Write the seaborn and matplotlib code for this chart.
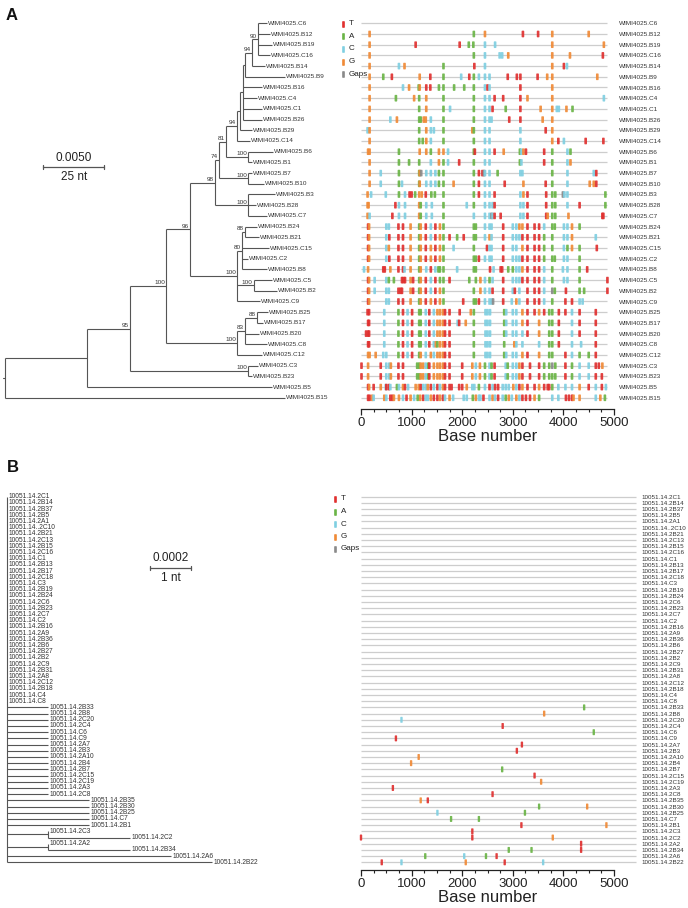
import pandas as pd
import seaborn as sns
import matplotlib.pyplot as plt
from matplotlib.ticker import MultipleLocator

sns.set_theme(style="white")
plt.rcParams["font.family"] = ["Liberation Sans", "DejaVu Sans"]

W, H = 688, 908

# ---------------- data ----------------
bases = ["T", "A", "C", "G", "Gaps"]
base_colors = ["#e0302f", "#6ab446", "#7fcfe1", "#f08a36", "#8a8a8a"]
code = {"T": "T", "A": "A", "C": "C", "G": "G", "N": "Gaps"}
a_aln_len = 4860
b_aln_len = 5430

# panel A tree (depth in nt from root)
a_prefix = "WIMI4025."
a_taxa = ["C6", "B12", "B19", "C16", "B14", "B9", "B16", "C4", "C1", "B26", "B29", "C14",
          "B6", "B1", "B7", "B10", "B3", "B28", "C7", "B24", "B21", "C15", "C2", "B8",
          "C5", "B2", "C9", "B25", "B17", "B20", "C8", "C12", "C3", "B23", "B5", "B15"]
a_tip_depth = [107.4, 108.6, 109.4, 108.6, 106.6, 114.8, 105.3, 103.3, 105.3, 105.3, 101.2, 100.4,
               109.8, 101.2, 101.2, 106.1, 110.7, 102.9, 107.4, 103.3, 104.1, 108.2, 99.6, 107.4,
               109.4, 111.5, 104.5, 107.8, 105.7, 104.1, 107.4, 105.3, 103.7, 101.2, 109.4, 114.8]
a_tip_parent = ["Ntop", "Ntop", "Ntop", "Ntop", "Nt2", "Nt3", "Nt4", "Nt4", "Nt4", "Nt4", "Nt5", "N15",
                "NB6", "NB6", "NB7", "NB7", "NB3", "NB3", "NB3", "N13", "N13", "N10", "N10", "N10",
                "NC5", "NC5", "N6", "N12", "N12", "N11", "N11", "N9", "NC3", "NC3", "N1", "R"]
a_nodes = ["R", "N1", "N2", "N3", "N4", "N5", "N8", "N14", "N15", "Nt5", "Nt4", "Nt3", "Nt2", "Ntop",
           "NB6", "NB7", "NB3", "N6", "N10", "N13", "NC5", "N9", "N11", "N12", "NC3"]
a_node_parent = [None, "R", "N1", "N2", "N3", "N4", "N5", "N8", "N14", "N15", "Nt5", "Nt4", "Nt3", "Nt2",
                 "N14", "N8", "N5", "N4", "N6", "N10", "N6", "N3", "N9", "N11", "N2"]
a_node_depth = [0, 33.6, 51.2, 66.0, 75.8, 86.0, 87.7, 90.6, 95.1, 96.3, 97.5, 98.4, 101.2, 103.7,
                99.6, 99.6, 99.6, 95.1, 97.1, 98.4, 102.0, 95.1, 98.4, 103.3, 99.6]
a_support = ["", "", "95", "100", "96", "98", "74", "81", "94", "", "", "", "94", "90",
             "100", "100", "100", "100", "80", "88", "100", "100", "83", "88", "100"]

a_marks = [
    "",
    "G170 A2230 G2450 T3200 T3500 G3780 G4500",
    "G170 T1080 T1950 A2130 A2220 C2450 C2650 G3780 G4800",
    "G170 A2230 C2450 C2740 C2790 G2910 G3780 G4130 T4780",
    "G170 C750 G860 A1630 T2240 C2450 G3780 T4010 C4070",
    "G170 A440 T610 G1160 T1370 A1630 C1980 T2140 A2230 C2330 C2450 C2540 T2900 T3080 T3150 T3490 G3680 G3780 G4670",
    "G170 C830 G950 A1140 G1160 T1290 T1370 A1540 A1630 A1840 A2040 A2230 C2450 T2500 C2540 T3150 G3780",
    "G170 A690 G1050 A1150 G1290 A1630 A2230 C2450 C2540 T2640 T2810 T3150 G3290 G3780 C4800",
    "G170 A1150 G1290 A1630 C1760 A2230 C2450 C2540 T2600 A2860 T3150 G3550 G3780 C3870 C3910 G4060 A4180",
    "G170 C580 G710 A1150 A1180 G1240 G1280 C1380 A1630 A2230 C2450 C2540 C2580 T2930 T3150 G3590 G3780",
    "C130 G170 A1150 G1290 C1380 C1440 A1630 G2200 A2230 C2450 C2540 C3150 T3650 G3780",
    "G170 A1150 A1220 G1290 C1380 A1630 A2230 C2450 C2540 C3150 G3780 T3900 C4010 T4440 T4790",
    "G140 G170 A750 G1160 G1290 A1380 G1540 G1630 C1720 A2230 T2250 C2450 C2540 T2640 G2820 A3140 C3170 G3210 T3260 T3620 A3780 C4080 A4140",
    "G170 A750 A950 A1150 C1380 G1540 A1630 C1720 T1940 A2230 C2450 C2540 A3140 C3170 T3620 A3780 C4080 G4140",
    "G170 C390 A750 A1150 G1160 N1190 C1290 C1380 C1470 A1540 A1630 A2230 T2330 T2400 N2430 C2450 C2540 A2700 C3150 C3190 A3780 C4080 C4600 T4650",
    "G170 C390 A750 C810 A1150 G1160 C1290 C1380 C1470 A1540 A1630 G1830 A2230 T2330 C2450 C2540 T2840 G3210 T3650 A3780 C4080 G4520 G4600 T4650",
    "G130 C200 C490 A750 C870 T960 T1000 A1070 G1150 G1200 T1280 A1390 A1460 A1630 A2230 T2330 C2450 C2540 T2640 C3150 G3210 T3290 T3660 A3780 A3840 N3990 C4020 C4080 A4830",
    "G130 G150 T680 C750 C870 G1150 A1180 C1290 C1400 A1630 C2090 A2230 C2450 C2540 C2600 T2640 C3150 C3210 T3290 T3660 A3780 A3840 C4080 T4320 A4830",
    "G130 C170 T620 C750 C870 G1150 A1180 C1290 C1400 A1630 C2230 C2450 C2540 N2580 C2600 T2640 T2760 C3150 C3210 T3290 T3660 G3690 A3780 A3840 G4100 T4770 T4790",
    "T140 G160 C500 C550 T740 T830 G980 A1150 G1180 T1280 C1380 T1470 G1560 A1630 A2230 A2270 C2450 C2540 C2580 T2810 C3000 C3070 G3130 G3190 T3290 T3430 T3520 C3620 A3780 A3830 C4010 C4080 G4170 A4320",
    "T140 G160 C500 T560 T740 T830 G980 A1150 G1180 T1280 C1380 T1470 G1560 A1630 T1750 A1900 T2030 A2230 A2270 C2450 G2540 C2580 T2810 C3000 C3070 C3130 T3190 T3290 T3430 T3520 A3620 A3780 C4010 C4080 G4170 C4640",
    "T140 G160 C500 G550 T740 T830 G980 A1150 G1180 T1280 G1380 T1470 G1560 A1630 C1830 A2230 T2490 C2540 C2580 T2810 C3000 C3070 G3190 T3290 T3430 T3520 A3620 A3780 C4010 A4080 G4170 A4320 T4660",
    "T140 G160 C500 T560 T740 T830 G980 A1150 G1180 T1280 G1380 T1470 G1560 A1630 A2230 A2270 T2330 C2450 C2540 C2580 T2810 C3000 C3070 C3130 T3190 T3290 T3430 T3520 A3620 A3780 A3830 C4010 C4080 A4320",
    "C60 G140 T440 T470 G580 T740 T830 C860 G980 A1150 G1180 C1290 T1380 C1470 A1530 A1560 A1630 C1900 A2230 A2270 T2550 C2620 T2760 T2790 A2910 A3000 C3070 C3130 G3190 T3290 T3430 T3520 C3620 A3780 C3990 C4080 A4320 T4470",
    "T140 G160 C270 C500 A550 A650 T810 T840 T870 G980 T1030 A1150 G1180 T1280 C1380 T1470 A1560 A1630 T1750 A2140 A2270 G2360 C2450 A2540 C2600 T2810 C3000 C3070 C3130 T3190 T3290 T3430 T3520 C3620 A3780 C4010 C4080 A4320 T4870",
    "T140 G160 C270 C500 C550 T740 T780 T810 G980 T1030 A1150 G1180 T1280 C1380 T1470 G1560 A1630 A2230 G2360 C2450 C2540 T2600 T2810 C3000 T3040 C3130 T3290 T3430 T3520 C3620 N3780 A3830 T4050 A4320 A4410 T4870",
    "T140 G160 C500 C550 T740 T830 G980 A1150 G1180 T1280 G1380 T1470 G1560 A1630 T2020 A2230 A2270 T2330 C2450 C2540 C2580 N2610 T2810 C2980 G3070 C3130 T3290 T3430 T3520 C3620 A3780 T4040 T4170 C4320 C4380",
    "T130 T160 C460 A740 T830 C920 T1010 A1150 A1180 C1280 T1350 C1440 G1510 G1560 G1620 T1660 T1750 T1950 G2170 A2230 C2460 C2500 C2550 A2830 C2870 C3000 C3070 G3190 T3290 T3430 G3520 T3620 A3720 A3780 T3910 T4040 C4170 T4320 T4640",
    "T140 T160 C460 A740 T830 C920 T1010 A1150 A1180 C1280 T1350 C1440 G1510 G1560 G1620 T1660 T1750 C1910 T1940 G2070 A2230 C2460 C2500 C2550 A2830 C2870 C3000 C3070 G3190 T3290 G3520 A3720 A3780 T3910 C4170 T4320 T4640",
    "T100 T140 T160 C460 A740 T830 C920 T1010 A1150 A1180 C1280 T1350 C1440 G1510 G1560 G1620 T1660 T1750 A2230 C2460 C2500 C2550 A2830 C2870 C3000 C3070 C3190 T3290 G3520 A3720 A3780 T3910 C4170 T4320 T4640",
    "T140 T160 C460 A740 T830 C920 T1010 A1150 A1180 C1280 T1350 C1440 G1480 A1510 G1560 G1620 T1660 T1750 A2230 C2460 C2500 C2550 A2830 G3030 C3070 C3190 C3520 A3720 A3780 T3910 C4170 C4350 T4640",
    "G140 G170 G290 C440 C500 A740 T830 C920 T1010 A1150 G1180 C1280 G1380 C1440 G1510 G1560 G1620 T1660 T1750 A2230 C2460 C2500 C2550 A2830 C2870 C3000 C3070 G3190 T3290 G3520 A3720 A3780 T4040 C4170 A4320 A4500 T4640",
    "T10 G140 T390 C500 C560 G590 T740 T830 A1110 A1150 G1180 G1230 C1280 A1330 T1350 G1440 G1510 G1560 G1620 T1660 T1750 T2000 G2200 C2270 G2350 A2450 C2540 A2580 T2640 C2860 A2900 C3000 C3070 G3130 T3190 T3340 T3520 A3620 A3720 N3780 A3840 T4040 A4170 C4320 C4500 T4640 T4700 G4770",
    "T10 G140 T390 C500 C560 G590 T740 T830 A1110 A1150 G1180 G1230 C1280 A1330 T1350 G1440 G1510 G1560 G1620 T1660 T1750 T2000 G2200 C2270 G2350 A2450 C2540 A2580 T2640 C2860 A2900 C3000 C3070 G3130 T3190 T3340 T3520 A3620 A3720 A3780 A3840 T4040 A4170 C4320 C4500 T4640 T4760",
    "T140 G160 T250 G390 C490 T500 T550 C580 A710 C750 G830 T870 C930 G1080 G1140 T1180 C1230 C1280 G1320 T1380 C1440 T1510 C1560 G1620 T1660 T1750 T1790 T1940 T2000 G2090 C2200 C2240 A2330 C2450 T2540 C2600 T2650 T2710 C2800 C2860 C2920 G3010 C3070 T3130 G3190 T3290 T3430 G3520 T3620 T3690 T3720 A3780 C3900 C4040 C4170 G4320 T4500 C4640 T4760 C4840",
    "T140 T170 G220 C250 G460 C500 T580 T620 G650 G750 C830 T900 G980 C1050 A1120 G1170 T1230 C1280 C1320 G1380 T1440 T1510 G1560 T1620 C1660 G1750 C1820 C2030 C2090 A2210 G2270 C2330 C2360 T2420 C2540 G2600 C2650 T2710 C2800 A2860 G2920 C2980 G3070 C3130 T3190 T3260 T3340 G3430 A3520 C3780 C3900 T4050 T4110 T4170 G4200 G4320 C4640 G4730 A4820",
]

# panel B tree
b_prefix = "10051.14."
b_taxa = ["2C1", "2B14", "2B37", "2B5", "2A1", ".2C10", "2B21", "2C13", "2B15", "2C16", "C1", "2B13",
          "2B17", "2C18", "C3", "2B19", "2B24", "2C6", "2B23", "2C7", "C2", "2B16", "2A9", "2B36",
          "2B6", "2B27", "2B2", "2C9", "2B31", "2A8", "2C12", "2B18", "C4", "C8",
          "2B33", "2B8", "2C20", "2C4", "C6", "C9", "2A7", "2B3", "2A10", "2B4", "2B7", "2C15",
          "2C19", "2A3", "2C8", "2B35", "2B30", "2B25", "C7", "2B1",
          "2C3", "2C2", "2A2", "2B34", "2A6", "2B22"]
b_tip_depth = [0] * 34 + [1] * 15 + [2] * 5 + [1, 3, 1, 3, 4, 5]
b_tip_parent = ["R"] * 54 + ["K1", "K1", "K2", "K2", "R", "R"]
b_nodes = ["R", "K1", "K2"]
b_node_parent = [None, "R", "R"]
b_node_depth = [0, 1, 1]
b_support = ["", "", ""]

b_marks = [""] * 34 + [
    "A4410", "G3620", "C800", "T2800", "A4600", "T690", "T3180", "T3080", "G1140", "G990",
    "A2790", "T3430", "G3560", "T630", "T2600", "G1180 T1320", "A3520 G4470", "C1510 A3240",
    "A1780 A2330", "T3170 G4850", "T2200", "T0 T2200 G3790", "T4350", "A2920 A3370 T4350",
    "A1270 C2040 A2470 T2680", "T410 C800 G2070 T2840 C3600",
]

# ---------------- drawing ----------------
bar_marker = [(-0.2, -0.4), (-0.15, -0.5), (0.15, -0.5), (0.2, -0.4),
              (0.2, 0.4), (0.15, 0.5), (-0.15, 0.5), (-0.2, 0.4)]
tree_col = "#555555"
txt_col = "#333333"


def px_axes(x0, x1, y0, y1):
    return fig.add_axes([x0 / W, 1 - y1 / H, (x1 - x0) / W, (y1 - y0) / H])


def draw_tree(ax, prefix, taxa, tip_depth, tip_parent, nodes, node_parent, node_depth,
              support, fs, label_off):
    depth = dict(zip(nodes, node_depth))
    parent = dict(zip(nodes, node_parent))
    kids = {n: [] for n in nodes}
    y = {}
    for i, (t, d, p) in enumerate(zip(taxa, tip_depth, tip_parent)):
        y[t] = i
        depth[t] = d
        parent[t] = p
        kids[p].append(t)
    for n in nodes:
        if parent[n] is not None:
            kids[parent[n]].append(n)

    def get_y(n):
        if n not in y:
            ys = [get_y(k) for k in kids[n]]
            y[n] = (min(ys) + max(ys)) / 2
        return y[n]

    for n in nodes:
        get_y(n)
    for n, p in parent.items():
        if p is not None and depth[n] > depth[p]:
            ax.plot([depth[p], depth[n]], [y[n], y[n]], color=tree_col, lw=0.8,
                    solid_capstyle="butt")
    for n in nodes:
        ys = [y[k] for k in kids[n]]
        ax.plot([depth[n], depth[n]], [min(ys), max(ys)], color=tree_col, lw=0.8,
                solid_capstyle="butt")
    for t in taxa:
        ax.annotate(prefix + t, (depth[t], y[t]), xytext=(label_off, 0),
                    textcoords="offset points", ha="left", va="center",
                    fontsize=fs, color=txt_col)
    for n, s in zip(nodes, support):
        if s:
            ax.annotate(s, (depth[n], y[n]), xytext=(-0.8, 0.5), textcoords="offset points",
                        ha="right", va="bottom", fontsize=4.6, color=txt_col)
    return y


def draw_highlighter(ax, prefix, taxa, marks, aln_len, size, fs, pad):
    recs = []
    for i, row in enumerate(marks):
        for tok in row.split():
            recs.append((i, int(tok[1:]), code[tok[0]]))
    df = pd.DataFrame(recs, columns=["row", "pos", "base"])
    ax.hlines(range(len(taxa)), 0, aln_len, color="#cdcdcd", lw=0.9, zorder=1, clip_on=False)
    sns.scatterplot(data=df, x="pos", y="row", hue="base", hue_order=bases,
                    palette=dict(zip(bases, base_colors)), marker=bar_marker, s=size,
                    linewidth=0, edgecolor="none", alpha=0.92, legend=False, ax=ax,
                    zorder=3, clip_on=False)
    ax.set_xlim(0, 5000)
    ax.xaxis.set_major_locator(MultipleLocator(1000))
    ax.xaxis.set_minor_locator(MultipleLocator(250))
    ax.tick_params(axis="x", which="major", bottom=True, length=4, width=0.9,
                   labelsize=9.5, pad=2, colors="#222222")
    ax.tick_params(axis="x", which="minor", bottom=True, length=2.2, width=0.8,
                   colors="#222222")
    ax.yaxis.tick_right()
    ax.set_yticks(range(len(taxa)))
    ax.set_yticklabels([prefix + t for t in taxa], fontsize=fs, color=txt_col)
    ax.tick_params(axis="y", length=0, pad=pad)
    ax.set_xlabel("Base number", fontsize=12, color="#222222", labelpad=0)
    ax.set_ylabel("")
    sns.despine(ax=ax, left=True, right=True, top=True)
    ax.spines["bottom"].set_linewidth(0.9)
    ax.spines["bottom"].set_color("#222222")
    ax.set_facecolor("none")


def scale_bar(ax, x0, x1, yb, yt, ylab, top, bottom):
    ax.plot([x0, x1], [yb, yb], color=tree_col, lw=0.9)
    for xx in (x0, x1):
        ax.plot([xx, xx], [yb - 0.2 * abs(ylab - yb), yb + 0.2 * abs(ylab - yb)],
                color=tree_col, lw=0.9)
    ax.text((x0 + x1) / 2, yt, top, ha="center", va="center", fontsize=8.5, color="#222222")
    ax.text((x0 + x1) / 2, ylab, bottom, ha="center", va="center", fontsize=8.5, color="#222222")


def legend(ax, x, y0, step):
    for i, (b, c) in enumerate(zip(bases, base_colors)):
        ax.scatter([x], [y0 + i * step], marker=bar_marker, s=23, color=c, linewidth=0)
        ax.text(x + 6, y0 + i * step, b, ha="left", va="center", fontsize=5.8, color="#222222")


fig = plt.figure(figsize=(W / 100, H / 100), dpi=100)

# panel A
a_top, a_bot, a_r0, a_dr = 15, 409, 23.3, 10.7
tA = px_axes(0, 340, a_top, a_bot)
draw_tree(tA, a_prefix, a_taxa, a_tip_depth, a_tip_parent, a_nodes, a_node_parent,
          a_node_depth, a_support, 4.6, 0.8)
tA.plot([-0.9, 0], [(358.5 - a_r0) / a_dr + 1.85, (358.5 - a_r0) / a_dr + 1.85],
        color=tree_col, lw=0.8)
tA.set_xlim(-5 / 2.44, 335 / 2.44)
tA.set_ylim((a_bot - a_r0) / a_dr, (a_top - a_r0) / a_dr)
tA.axis("off")
scale_bar(tA, 15.7, 40.7, 13.4, 12.59, 14.36, "0.0050", "25 nt")

hA = px_axes(361, 614, a_top, a_bot)
draw_highlighter(hA, a_prefix, a_taxa, a_marks, a_aln_len, 23, 4.6, 3.5)
hA.set_ylim((a_bot - a_r0) / a_dr, (a_top - a_r0) / a_dr)

# panel B
b_top, b_bot, b_r0, b_dr = 490, 870, 496.7, 6.197
tB = px_axes(0, 340, b_top, b_bot)
draw_tree(tB, b_prefix, b_taxa, b_tip_depth, b_tip_parent, b_nodes, b_node_parent,
          b_node_depth, b_support, 4.8, 1.2)
tB.set_xlim(-7 / 41, 333 / 41)
tB.set_ylim((b_bot - b_r0) / b_dr, (b_top - b_r0) / b_dr)
tB.axis("off")
scale_bar(tB, 3.49, 4.49, 11.5, 9.9, 13.1, "0.0002", "1 nt")

hB = px_axes(361, 614, b_top, b_bot)
draw_highlighter(hB, b_prefix, b_taxa, b_marks, b_aln_len, 18.5, 4.5, 19.5)
hB.set_ylim((b_bot - b_r0) / b_dr, (b_top - b_r0) / b_dr)

# overlay: panel letters and legends
ov = fig.add_axes([0, 0, 1, 1])
ov.set_xlim(0, W)
ov.set_ylim(H, 0)
ov.axis("off")
ov.text(12, 16, "A", ha="center", va="center", fontsize=12, fontweight="bold", color="#111111")
ov.text(12.5, 467, "B", ha="center", va="center", fontsize=12, fontweight="bold", color="#111111")
legend(ov, 343, 23.5, 12.7)
legend(ov, 335, 499, 12.5)

fig.savefig("out.png", dpi=100)
